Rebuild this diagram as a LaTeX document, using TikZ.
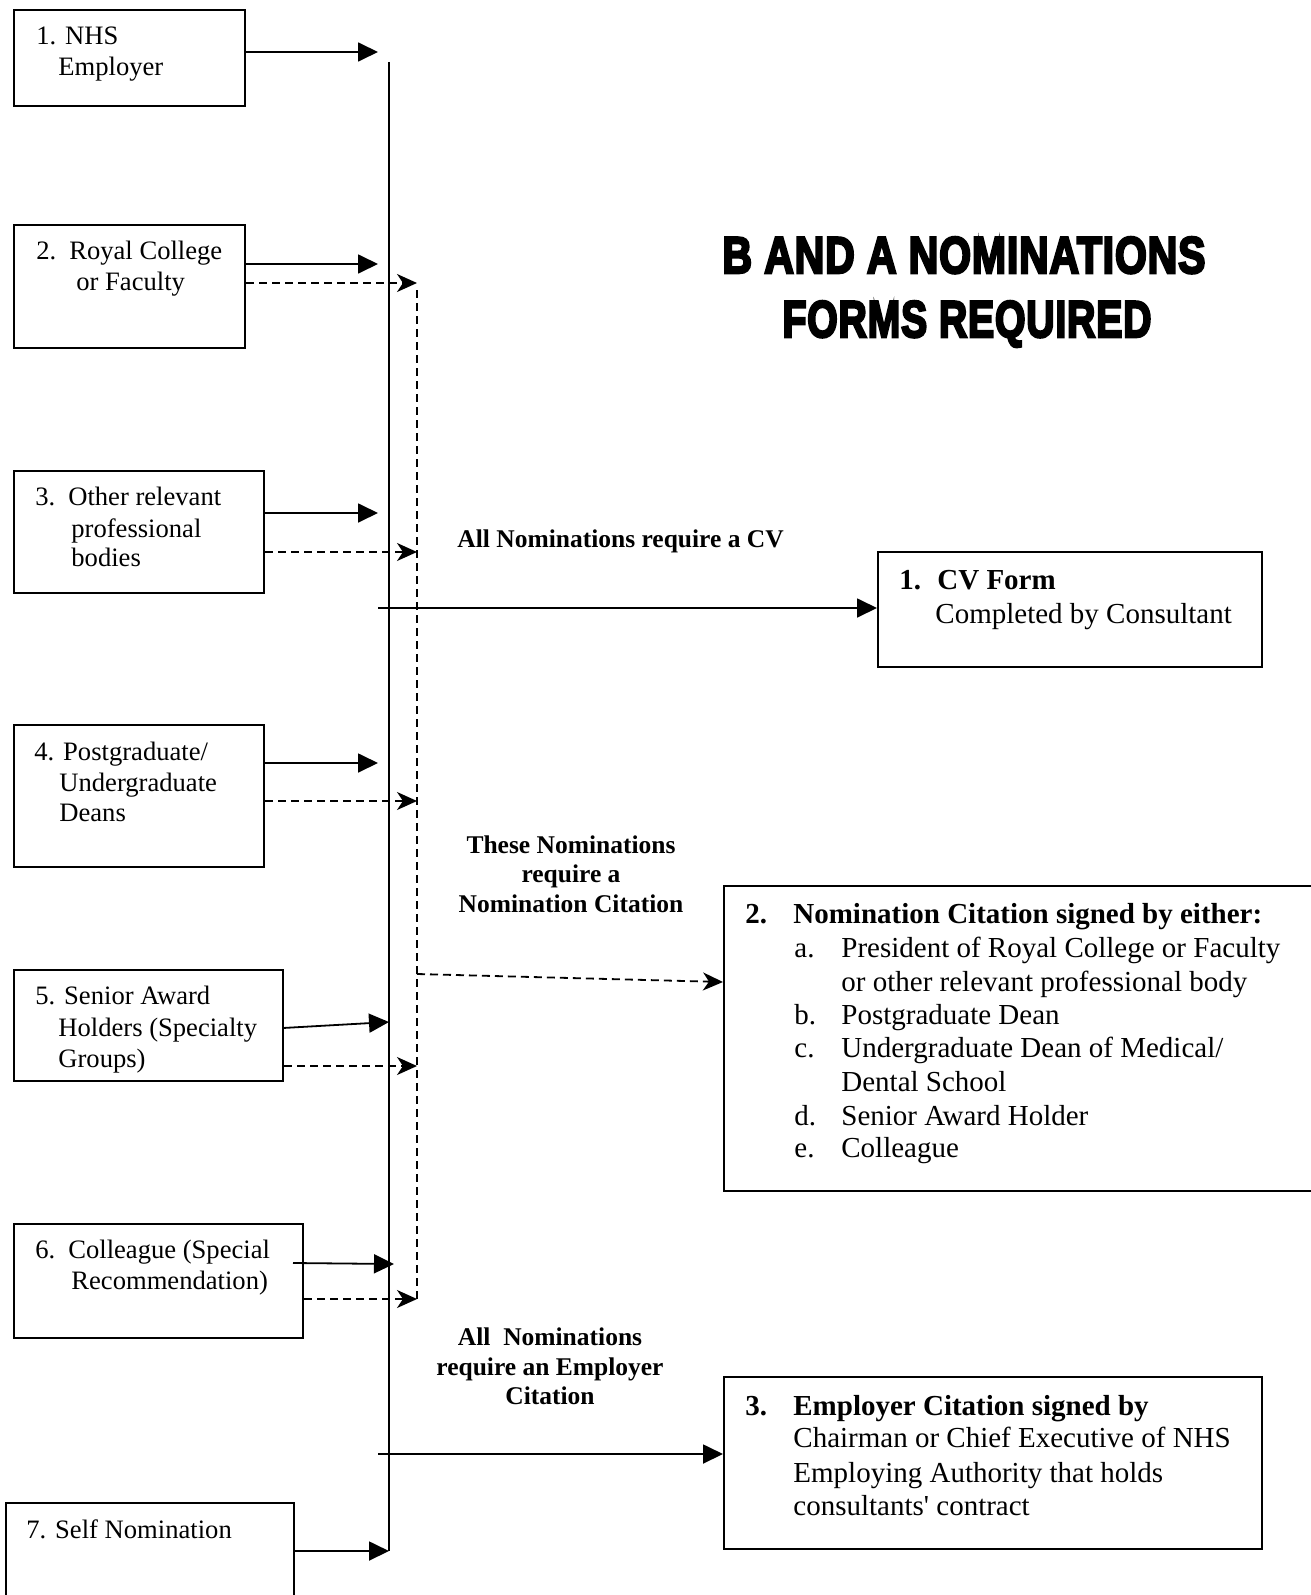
\documentclass[tikz,border=0pt]{standalone}
\usepackage{fontspec}
\setmainfont{Liberation Serif}
\newfontfamily\titlefont[FakeBold=5,LetterSpace=2]{Liberation Sans Bold}
\usetikzlibrary{arrows.meta,fit}
\begin{document}
\begin{tikzpicture}[x=0.5pt,y=-0.5pt,
  box/.style={draw, line width=1pt, inner sep=0pt},
  lt/.style={anchor=base west, inner sep=0pt, font=\fontsize{13.3}{15.5}\selectfont},
  rt/.style={anchor=base west, inner sep=0pt, font=\fontsize{14.5}{17}\selectfont},
  rtb/.style={rt, font=\fontsize{14.5}{17}\selectfont\bfseries},
  lab/.style={anchor=base, inner sep=0pt, font=\fontsize{12.75}{14.75}\selectfont\bfseries},
  sline/.style={line width=0.9pt},
  dline/.style={line width=0.9pt, dash pattern=on 4pt off 2.5pt},
  sarr/.style={sline, -{Triangle[length=10pt,width=9.5pt]}},
  darr/.style={dline, -{Stealth[length=10pt,width=9pt,inset=3pt]}}
]
\useasboundingbox (0,0) rectangle (1311,1595);
\clip (0,0) rectangle (1311,1595);

% ---------- left boxes ----------
\coordinate (b1nw) at (14,10);   \coordinate (b1se) at (245,106);
\coordinate (b2nw) at (14,225);  \coordinate (b2se) at (245,348);
\coordinate (b3nw) at (14,471);  \coordinate (b3se) at (264,593);
\coordinate (b4nw) at (14,725);  \coordinate (b4se) at (264,867);
\coordinate (b5nw) at (14,970);  \coordinate (b5se) at (283,1081);
\coordinate (b6nw) at (14,1224); \coordinate (b6se) at (303,1338);
\coordinate (b7nw) at (6,1503);  \coordinate (b7se) at (294,1610);
\node[box, fit=(b1nw)(b1se)] (b1) {};
\node[box, fit=(b2nw)(b2se)] (b2) {};
\node[box, fit=(b3nw)(b3se)] (b3) {};
\node[box, fit=(b4nw)(b4se)] (b4) {};
\node[box, fit=(b5nw)(b5se)] (b5) {};
\node[box, fit=(b6nw)(b6se)] (b6) {};
\node[box, fit=(b7nw)(b7se)] (b7) {};

\node[lt] (t1a) at (36,45) {1. NHS};
\node[lt] (t1b) at (58,76) {Employer};
\node[lt] (t2a) at (36,259) {2.\hspace{6.5pt}Royal College};
\node[lt] (t2b) at (76,290) {or Faculty};
\node[lt] (t3a) at (35,505) {3.\hspace{6.5pt}Other relevant};
\node[lt] (t3b) at (71,537) {professional};
\node[lt] (t3c) at (71,566) {bodies};
\node[lt] (t4a) at (34,760) {4. Postgraduate/};
\node[lt] (t4b) at (59,791) {Undergraduate};
\node[lt] (t4c) at (59,821) {Deans};
\node[lt] (t5a) at (35,1004) {5. Senior Award};
\node[lt] (t5b) at (58,1036) {Holders (Specialty};
\node[lt] (t5c) at (58,1067) {Groups)};
\node[lt] (t6a) at (35,1258) {6.\hspace{6.5pt}Colleague (Special};
\node[lt] (t6b) at (71,1289) {Recommendation)};
\node[lt] (t7a) at (26,1538) {7. Self Nomination};

% ---------- right boxes ----------
\coordinate (cvnw) at (878,552);  \coordinate (cvse) at (1262,667);
\coordinate (ncnw) at (724,886);  \coordinate (ncse) at (1330,1191);
\coordinate (ecnw) at (724,1377); \coordinate (ecse) at (1262,1549);
\node[box, fit=(cvnw)(cvse)] (cv) {};
\node[box, fit=(ncnw)(ncse)] (nc) {};
\node[box, fit=(ecnw)(ecse)] (ec) {};

\node[rtb] (cva) at (899,589) {\makebox[19pt][l]{1.}CV Form};
\node[rt]  (cvb) at (935,623) {Completed by Consultant};

\node[rtb] (nca) at (745,923) {\makebox[24pt][l]{2.}Nomination Citation signed by either:};
\node[rt] (ncb) at (794,957)  {\makebox[23.5pt][l]{a.}President of Royal College or Faculty};
\node[rt] (ncc) at (841,991)  {or other relevant professional body};
\node[rt] (ncd) at (794,1024) {\makebox[23.5pt][l]{b.}Postgraduate Dean};
\node[rt] (nce) at (794,1057) {\makebox[23.5pt][l]{c.}Undergraduate Dean of Medical/};
\node[rt] (ncf) at (841,1091) {Dental School};
\node[rt] (ncg) at (794,1125) {\makebox[23.5pt][l]{d.}Senior Award Holder};
\node[rt] (nch) at (794,1157) {\makebox[23.5pt][l]{e.}Colleague};

\node[rtb] (eca) at (745,1415) {\makebox[24pt][l]{3.}Employer Citation signed by};
\node[rt] (ecb) at (793,1447) {Chairman or Chief Executive of NHS};
\node[rt] (ecc) at (793,1482) {Employing Authority that holds};
\node[rt] (ecd) at (793,1515) {consultants\textquotesingle{} contract};

% ---------- labels ----------
\node[lab, anchor=base west] (l1) at (457,547) {All Nominations require a CV};
\node[lab] (l2a) at (571,853) {These Nominations};
\node[lab] (l2b) at (571,882) {require a};
\node[lab] (l2c) at (571,912) {Nomination Citation};
\node[lab] (l3a) at (550,1345) {All\ \ Nominations};
\node[lab] (l3b) at (550,1375) {require an Employer};
\node[lab] (l3c) at (550,1404) {Citation};

% ---------- title ----------
\node[anchor=base, inner sep=0pt] (ti1) at (964,273) {\resizebox{241.5pt}{18pt}{\titlefont\fontsize{23}{23}\selectfont B AND A NOMINATIONS}};
\node[anchor=base, inner sep=0pt] (ti2) at (967,337) {\resizebox{184.5pt}{18pt}{\titlefont\fontsize{23}{23}\selectfont FORMS REQUIRED}};

% ---------- connectors ----------
\coordinate (vtop) at (389,62);  \coordinate (vbot) at (389,1551);
\coordinate (dtop) at (417,290); \coordinate (dbot) at (417,1299);
\draw[sline] (vtop) -- (vbot);
\draw[dline] (dtop) -- (dbot);

\coordinate (a1) at (378,52);
\coordinate (a2) at (378,264);  \coordinate (d2) at (417,283);
\coordinate (a3) at (378,513);  \coordinate (d3) at (417,552);
\coordinate (a4) at (378,763);  \coordinate (d4) at (417,801);
\coordinate (a5s) at (283,1028); \coordinate (a5) at (389,1022); \coordinate (d5) at (417,1066);
\coordinate (a6s) at (293,1263); \coordinate (a6) at (394,1264); \coordinate (d6) at (417,1299);
\coordinate (a7) at (389,1551);

\draw[sarr] (b1.east |- a1) -- (a1);
\draw[sarr] (b2.east |- a2) -- (a2);
\draw[darr] (b2.east |- d2) -- (d2);
\draw[sarr] (b3.east |- a3) -- (a3);
\draw[darr] (b3.east |- d3) -- (d3);
\draw[sarr] (b4.east |- a4) -- (a4);
\draw[darr] (b4.east |- d4) -- (d4);
\draw[sarr] (a5s) -- (a5);
\draw[darr] (b5.east |- d5) -- (d5);
\draw[sarr] (a6s) -- (a6);
\draw[darr] (b6.east |- d6) -- (d6);
\draw[sarr] (b7.east |- a7) -- (a7);

\coordinate (cvs) at (378,608);
\draw[sarr] (cvs) -- (cv.west |- cvs);
\coordinate (ncs) at (417,974); \coordinate (nce) at (724,982);
\draw[darr] (ncs) -- (nc.west |- nce);
\coordinate (ecs) at (378,1454);
\draw[sarr] (ecs) -- (ec.west |- ecs);
\end{tikzpicture}
\end{document}
